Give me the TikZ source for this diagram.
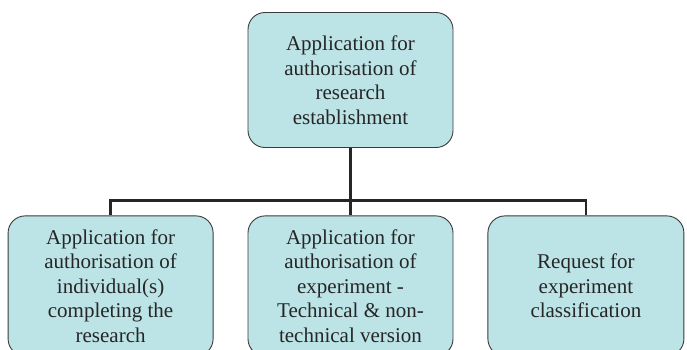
\documentclass[tikz,border=0pt]{standalone}
\usepackage{fontspec}
\setmainfont{Liberation Serif}
\usepackage{xcolor}
\usepackage{tikz}
\usetikzlibrary{positioning}

\definecolor{boxfill}{HTML}{BCE3E5}
\definecolor{boxline}{HTML}{3A3A3A}

\begin{document}
\begin{tikzpicture}[
    x=1pt, y=1pt,
    node distance=67.5pt and 34pt,
    stage/.style={rectangle, draw=boxline, line width=0.9pt, fill=boxfill,
                  rounded corners=17pt, minimum width=205pt, minimum height=140pt,
                  align=center, text=black!85,
                  font=\fontsize{21}{24.5}\selectfont},
    conn/.style={line width=2.6pt, draw=black!85},
]
  \useasboundingbox (0,0) rectangle (687,-349);

  \node[stage, minimum height=135pt] (estab) at (350.5,-80)
    {Application for\\authorisation of\\research\\establishment};
  \node[stage, below=of estab]            (expt)  {Application for\\authorisation of\\experiment -\\Technical \& non-\\technical version};
  \node[stage, left=of expt]              (indiv) {Application for\\authorisation of\\individual(s)\\completing the\\research};
  \node[stage, right=of expt, minimum width=196pt] (classif) {Request for\\experiment\\classification};

  \coordinate[above=15pt of expt.north] (bus);

  \draw[conn] (estab.south) -- (bus);
  \draw[conn] (bus) -- (expt.north);
  \draw[conn] (indiv.north) |- (bus) -| (classif.north);
\end{tikzpicture}
\end{document}
